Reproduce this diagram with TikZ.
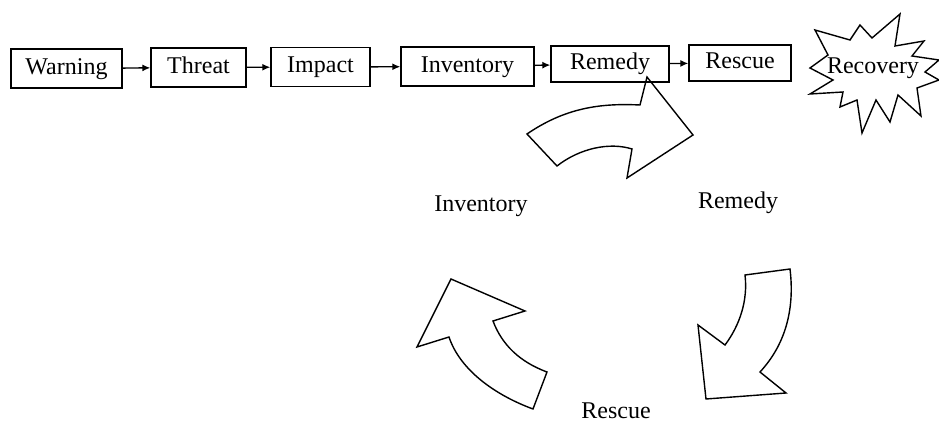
\documentclass[tikz,border=0pt]{standalone}
\usepackage{fontspec}
\setmainfont{Liberation Serif}
\usepackage{tikz}
\usetikzlibrary{arrows.meta}

\begin{document}
\begin{tikzpicture}[x=0.5pt, y=-0.5pt, line width=0.7pt,
		stage/.style={draw, black, minimum height=19.5pt, inner sep=2pt, text height=1.6ex, text depth=0.3ex, font=\fontsize{12}{14}\selectfont},
		lbl/.style={font=\fontsize{12}{14}\selectfont},
		flow/.style={-{Latex[length=4pt,width=3.5pt]}},
		turnarrow/.style={draw, black, line join=miter}]
	\useasboundingbox (0, 0) rectangle (939, 422);
	% chain of stages
	\node [stage, minimum width=55.5pt] (warning) at (66.5, 68.5) {Warning};
	\node [stage, minimum width=47.5pt] (threat) at (198.5, 67.5) {Threat};
	\node [stage, minimum width=49.5pt] (impact) at (320.5, 67) {Impact};
	\node [stage, minimum width=66.5pt] (inventory) at (467.5, 66.5) {Inventory};
	\node [stage, minimum width=59pt, minimum height=18pt] (remedy) at (610, 64) {Remedy};
	\node [stage, minimum width=51pt, minimum height=18pt] (rescue) at (740, 63) {Rescue};
	\draw [flow] (warning) -- (threat);
	\draw [flow] (threat) -- (impact);
	\draw [flow] (impact) -- (inventory);
	\draw [flow] (inventory) -- (remedy);
	\draw [flow] (remedy) -- (rescue);
	% burst round recovery
	\draw [black, fill=white, line join=miter] (815, 30)--(850, 40)--(860, 25)--(872, 38)--(900, 14)--(895, 46)--(924, 41)--(912, 56)--(939, 60)--(925, 72)--(939, 80)--(917, 88)--(921, 116)--(898, 95)--(890, 122)--(876, 100)--(862, 133)--(857, 100)--(840, 107)--(843, 92)--(810, 94)--(833, 80)--(810, 68)--(828, 55)--cycle;
	\node [lbl, inner sep=0pt] (recovery) at (873, 68) {Recovery};
	% cycle of curved arrows
	\path [turnarrow] (527, 134) .. controls (565, 108) and (600, 103) .. (640, 105) -- (647, 77) -- (693, 135) -- (627, 178) -- (632, 149) .. controls (610, 142) and (580, 148) .. (557, 166) -- cycle;
	\path [turnarrow] (745, 275) -- (790, 269) .. controls (795, 310) and (785, 345) .. (760, 372) -- (786, 393) -- (706, 399) -- (698, 325) -- (725, 345) .. controls (740, 325) and (748, 300) .. (745, 275) -- cycle;
	\path [turnarrow] (451, 279) -- (525, 311) -- (493, 321) .. controls (502, 345) and (520, 362) .. (547, 372) -- (533, 409) .. controls (495, 395) and (460, 370) .. (449, 337) -- (417, 347) -- cycle;
	\node [lbl] (inv) at (481, 206) {Inventory};
	\node [lbl] (rem) at (738, 203) {Remedy};
	\node [lbl] (res) at (616, 411) {Rescue};

\end{tikzpicture}
\end{document}
